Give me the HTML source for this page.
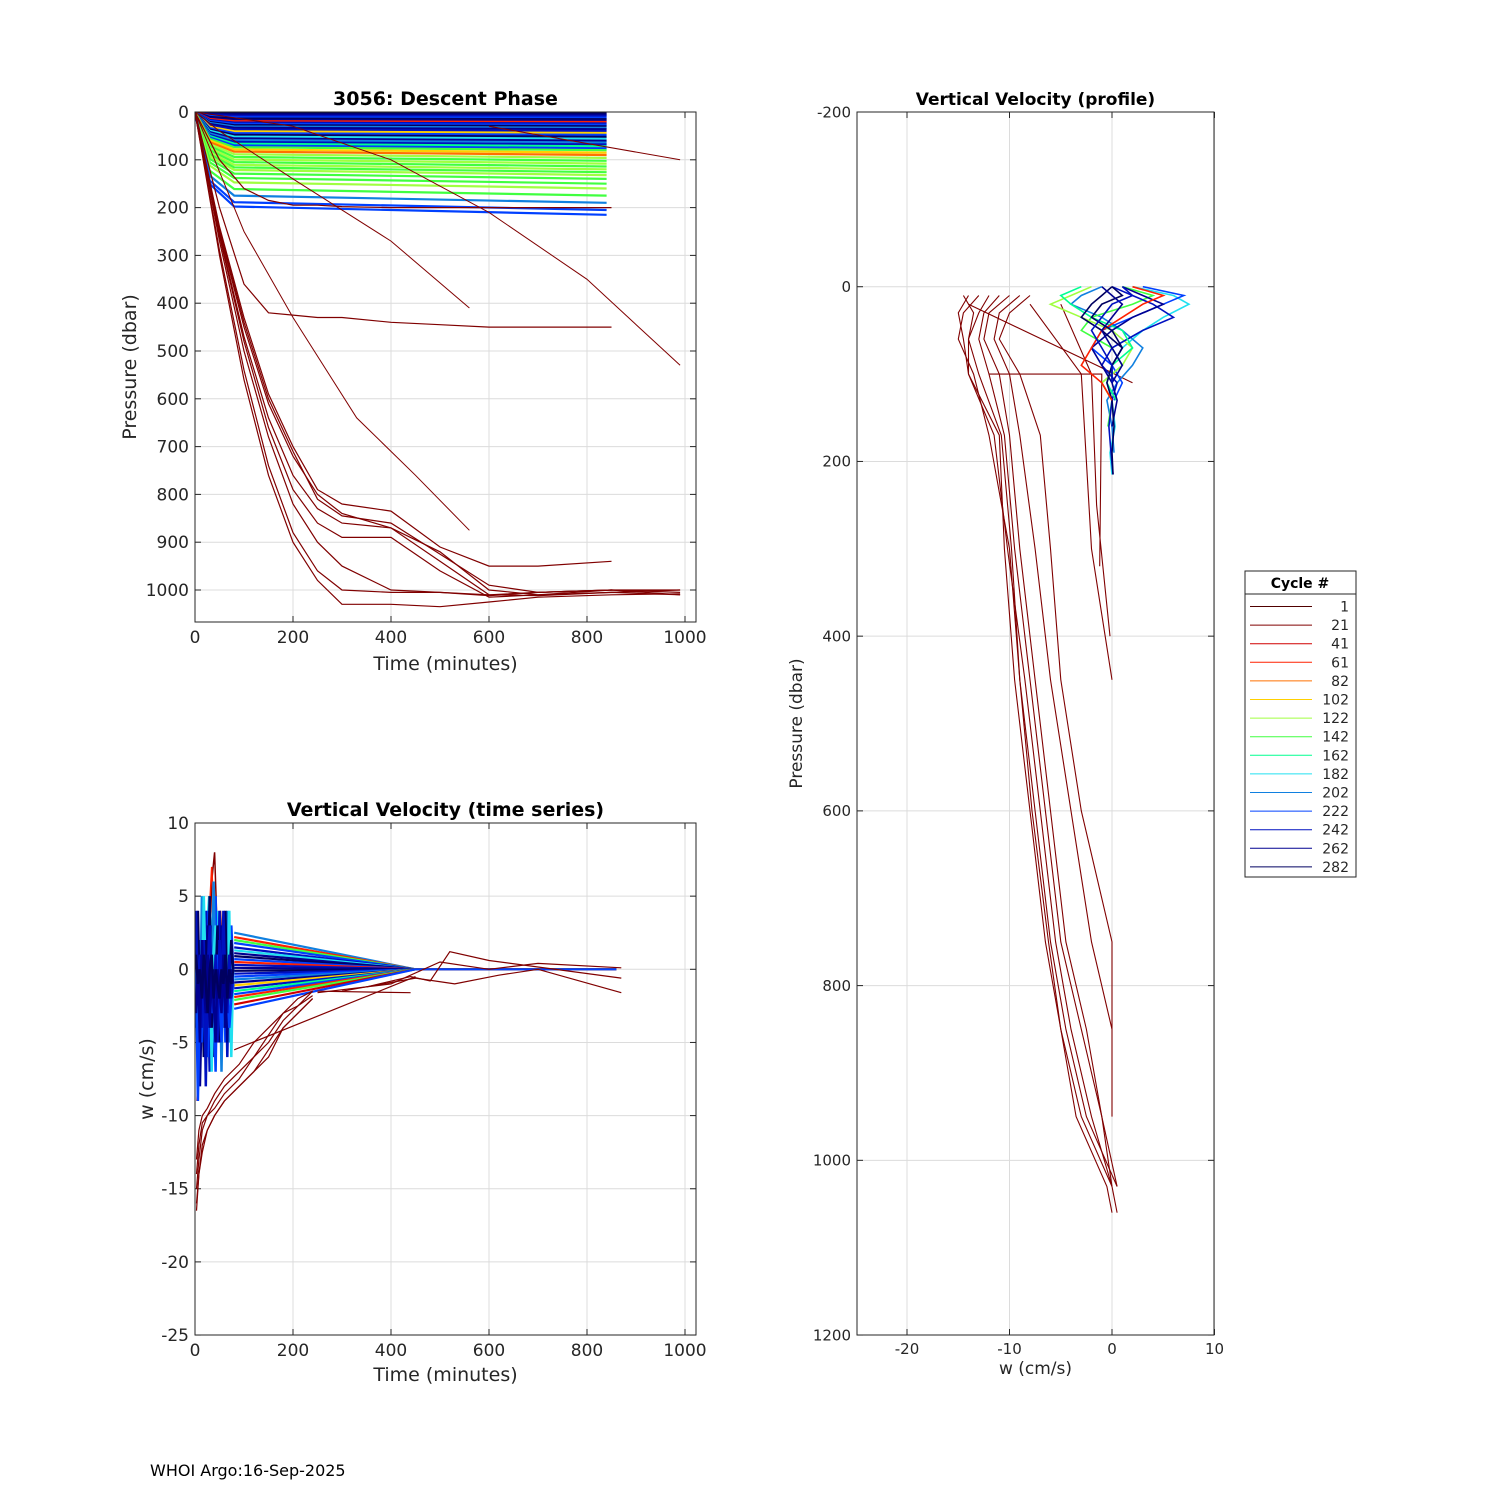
<!DOCTYPE html>
<html><head><meta charset="utf-8">
<style>
body{margin:0;background:#fff;}
svg{display:block;font-family:"DejaVu Sans","Liberation Sans",sans-serif;}
</style></head>
<body>
<svg id="fig" width="1500" height="1500" viewBox="0 0 1500 1500">
<rect width="1500" height="1500" fill="#fff"/>
<g id="p1"></g>
<g id="p2"></g>
<g id="p3"></g>
<g id="leg"></g>
<text x="150" y="1476" font-size="16" fill="#000">WHOI Argo:16-Sep-2025</text>
</svg>
<script>
// ---------- data ----------
const cycleColors = ["#500000","#800000","#d00000","#ff2000","#ff7000","#ffd000","#a0ff40","#40ff40","#00ff90","#20e0f0","#1080e0","#0040ff","#0010c0","#000090","#000060"];
const legendCycles = [1,21,41,61,82,102,122,142,162,182,202,222,242,262,282];

// Panel 1 ticks
const p1XTicks = [0,200,400,600,800,1000];
const p1YTicks = [0,100,200,300,400,500,600,700,800,900,1000];
const shallowLevels = [3,6,9,12,15,18,21,24,27,30,33,36,40,44,48,52,56,60,64,68,72,76,80,85,90,96,102,108,114,120,126,132,140,150,160,175,190,205,215];
const shallowColorIdx = [14,13,12,11,14,13,3,12,11,14,10,13,12,5,11,14,9,13,10,12,8,11,7,5,4,6,7,6,7,6,7,6,7,7,6,7,10,11,11];
const shallowTimes = [0,30,80,840];
const deepT = [0,50,100,150,200,250,300,400,500,600,700,850,990];
const deepP = [
 [0,300,560,760,900,980,1030,1030,1035,1025,1015,1010,1008],
 [0,290,540,740,880,960,1000,1005,1005,1010,1005,1000,1000],
 [0,270,500,680,820,900,950,1000,1005,1012,1005,1000,1010],
 [0,255,470,640,760,830,860,870,940,1010,1012,1005,1010],
 [0,250,450,610,720,800,840,870,920,1000,1010,1005,1000],
 [0,240,430,590,700,790,820,835,910,950,950,940,null],
 [0,260,480,660,790,860,890,890,960,1015,1010,1000,1005],
 [0,245,440,600,710,810,845,860,925,990,1005,1000,null],
 [0,200,360,420,425,430,430,440,445,450,450,450,null],
 [0,100,160,185,195,195,198,200,200,200,200,200,null]
];
const diagLines = [
 {t:[0,100,200,330,450,560],p:[0,250,430,640,760,875]},
 {t:[0,50,200,400,560],p:[0,40,140,270,410]},
 {t:[0,200,400,600,800,990],p:[0,30,100,210,350,530]},
 {t:[600,990],p:[30,100]}
];

// Panel 2
const p2XTicks = [0,200,400,600,800,1000];
const p2YTicks = [10,5,0,-5,-10,-15,-20,-25];
const spikeT = [2,6,10,14,18,22,26,30,34,38,42,46,50,54,58,62,66,70,74,78];
const spikeW = [
 [1,-3,2,-5,3,-2,4,-6,2,-1,5,-4,1,-3,3,-5,2,-2,3,0],
 [-2,2,-6,1,-3,4,-1,-7,3,-2,1,-5,4,-1,-4,2,-6,1,-2,-1],
 [3,-1,-4,5,-2,1,-6,3,-3,6,-1,-2,2,-7,1,-3,4,-5,1,0],
 [-4,1,-8,-2,2,-5,3,-3,0,-6,2,-1,-4,3,-2,0,-5,2,-3,-1],
 [2,-6,0,-3,5,-1,-4,2,-7,1,3,-2,0,-5,2,-1,-3,4,-6,0],
 [-1,4,-3,1,-6,2,-2,5,-4,0,-1,3,-5,1,-2,4,-3,-1,2,0],
 [0,-9,-2,-5,1,-4,-6,0,-3,-1,-7,1,-2,-5,0,-3,-1,-4,-2,-1],
 [4,-2,1,-4,2,-8,0,3,-1,-3,1,-5,2,-2,4,-1,-3,1,-2,0],
 [-3,0,-5,2,-1,-3,1,-4,0,-2,-5,0,-1,-3,1,-4,-1,-2,0,-1],
 [1,-1,0,-2,1,-1,-3,0,1,-2,0,-1,-2,0,-1,1,-2,0,-1,0]
];
const spikeColorIdx = [11,12,10,13,9,14,11,12,13,14];
const hotSpikeT = [4,10,16,22,28,34,40,46,52,58];
const hotSpikeW = [
 [-2,1,-4,3,-1,6,8,2,4,-1],
 [-6,-3,0,2,5,3,1,4,-2,0],
 [-9,-5,-2,1,3,7,3,-1,2,-1]
];
const hotSpikeColorIdx = [1,9,3];
const tailStartW = [2.5,2.2,2.0,1.8,1.5,1.3,1.1,0.9,0.7,0.5,0.3,0.1,-0.1,-0.3,-0.5,-0.7,-0.9,-1.1,-1.3,-1.5,-1.7,-1.9,-2.1,-2.4,-2.7];
const tailColorIdx = [10,3,7,11,12,9,13,14,11,3,12,13,14,12,11,10,13,5,12,8,11,3,7,2,11];
const redT = [3,8,15,25,40,60,90,120,150,180,210,240];
const redW = [
 [-16,-14,-12,-11,-10,-9,-8,-7,-6,-4,-3,-2],
 [-15,-13,-11,-10,-9.5,-8.5,-7.5,-6,-5,-3.5,-2.5,-1.8],
 [-16.5,-14,-12.5,-11,-10,-9,-8,-7,-5.5,-4,-3,-2],
 [-14,-12,-10.5,-10,-9,-8,-7,-6,-4.5,-3,-2.5,-1.5],
 [-13,-11,-10,-9.5,-8.5,-7.5,-6.5,-5,-4,-3,-2,-1.5]
];
const redTail = [
 {t:[250,400,500,600,700,870],w:[-1.6,-1,0.5,0,0.4,0.1]},
 {t:[300,450,530,620,700,870],w:[-1.5,-0.6,-1,-0.4,0,-1.6]},
 {t:[350,440,480,520,600,870],w:[-1.2,-0.5,-0.8,1.2,0.6,-0.6]},
 {t:[80,450],w:[-5.5,-0.5]},
 {t:[250,440],w:[-1.5,-1.6]}
];

// Panel 3
const p3XTicks = [-20,-10,0,10];
const p3YTicks = [-200,0,200,400,600,800,1000,1200];
const profP = [10,30,60,100,170,300,450,600,750,850,950,1030,1060];
const profW = [
 [-14,-15,-14.5,-14,-11,-10.5,-9.5,-8,-6.5,-5,-3,0,0.5],
 [-13,-14.5,-15,-13.5,-12,-10,-9,-7.5,-6,-4.5,-2.5,0.5,null],
 [-12,-13,-14,-14,-11.5,-10.2,-8.5,-7,-5.5,-4,-2,0,null],
 [-11,-12.5,-13,-12,-10.5,-9.5,-8,-6.5,-5,-3,-1,0,null],
 [-14.5,-13.5,-14,-13,-10.8,-9.8,-9,-7.8,-6.2,-5,-3.5,-0.5,0],
 [-10,-12,-12.5,-11,-10,-9,-7.5,-6,-4.5,-2.5,-1,0.5,null],
 [-9,-11,-11.5,-10,-9,-7.5,-6,-4,-2,0,0,null,null],
 [-8,-10,-11,-9,-7,-6,-5,-3,0,0,null,null,null]
];
const redProfLines = [
 {p:[20,100,300,450],w:[-8,-3,-2,0]},
 {p:[20,100,250,400],w:[-5,-2,-1.5,-0.2]},
 {p:[100,100,320],w:[-12,-1,-1.2]},
 {p:[20,90,110],w:[-14,-1.5,2]}
];
const blobP = [0,10,20,35,50,70,90,110,130,160,190,215];
const blobW = [
 [2,6,7.5,5,3,1,0,-0.5,0,0.3,-0.2,0],
 [-1,-3,-4,-1,1,3,2,0.5,-0.5,0,0.2,null],
 [1,4,2,-2,-3,0,1,-1,0,-0.4,null,null],
 [3,7,5,2,-1,-2,0,1,0.2,null,null,null],
 [-2,-4,-6,-3,0,2,1,-1,0,null,null,null],
 [0,2,4,6,3,0,-1,0.5,0,-0.3,-0.1,0.1],
 [-3,-5,-4,-2,1,2,0,-0.5,0.4,null,null,null],
 [1,3,5,2,0,-2,-1,0,0.5,0,null,null],
 [0,-1,-2,-3,-1,1,0,-0.5,0,0.2,0,0.1],
 [2,5,3,1,-1,-2,-3,-1,0,null,null,null],
 [0,1,-1,-2,0,1,0,0,null,null,null,null],
 [-1,0,1,0,-1,0,1,0,null,null,null,null],
 [1,2,0,-1,-2,-1,0,0,null,null,null,null]
];
const blobColorIdx = [9,10,7,11,6,12,8,13,14,3,14,13,12];

// ---------- helpers ----------
const NS="http://www.w3.org/2000/svg";
function mk(parent,tag,attrs){const e=document.createElementNS(NS,tag);for(const k in attrs)e.setAttribute(k,attrs[k]);parent.appendChild(e);return e;}
function poly(parent,xs,ys,color,w,name){
  let d="";let pen=false;
  for(let i=0;i<xs.length;i++){if(ys[i]==null||xs[i]==null){pen=false;continue;}d+=(pen?"L":"M")+xs[i].toFixed(1)+","+ys[i].toFixed(1);pen=true;}
  const e=mk(parent,"path",{d:d,fill:"none",stroke:color,"stroke-width":w||1});
  
  
  return e;
}
function axesFrame(g,L,T,R,B,xt,yt,xs,ys,fs,xlab,ylab,title,tfs,xlabY,ylabX){
  const clipId="c"+L+T;
  const cp=mk(g,"clipPath",{id:clipId});mk(cp,"rect",{x:L,y:T,width:R-L,height:B-T});
  xt.forEach(v=>{const x=xs(v);const l=mk(g,"line",{x1:x,x2:x,y1:T,y2:B,stroke:"#dcdcdc","stroke-width":1});
    
    mk(g,"line",{x1:x,x2:x,y1:B,y2:B-6,stroke:"#262626"});mk(g,"line",{x1:x,x2:x,y1:T,y2:T+6,stroke:"#262626"});
    const t=mk(g,"text",{x:x,y:B+fs+4,"font-size":fs,"text-anchor":"middle",fill:"#262626"});t.textContent=v;
    });
  yt.forEach(v=>{const y=ys(v);const l=mk(g,"line",{x1:L,x2:R,y1:y,y2:y,stroke:"#dcdcdc","stroke-width":1});
    
    mk(g,"line",{x1:L,x2:L+6,y1:y,y2:y,stroke:"#262626"});mk(g,"line",{x1:R,x2:R-6,y1:y,y2:y,stroke:"#262626"});
    const t=mk(g,"text",{x:L-6,y:y+fs*0.35,"font-size":fs,"text-anchor":"end",fill:"#262626"});t.textContent=v;
    });
  const data=mk(g,"g",{"clip-path":"url(#"+clipId+")"});
  
  const tt=mk(g,"text",{x:(L+R)/2,y:T-7,"font-size":tfs,"font-weight":"bold","text-anchor":"middle",fill:"#000"});tt.textContent=title;
  
  const xl=mk(g,"text",{x:(L+R)/2,y:xlabY,"font-size":fs+2,"text-anchor":"middle",fill:"#262626"});xl.textContent=xlab;
  
  const yl=mk(g,"text",{x:0,y:0,"font-size":fs+2,"text-anchor":"middle",fill:"#262626",transform:"translate("+ylabX+","+(T+B)/2+") rotate(-90)"});yl.textContent=ylab;
  
  return data;
}
function frame(g,L,T,R,B){const r=mk(g,"rect",{x:L,y:T,width:R-L,height:B-T,fill:"none",stroke:"#262626","stroke-width":1});
  }

// ---------- Panel 1 ----------
(function(){
  const g=document.getElementById("p1");
  const L=195,T=112,R=696,B=622;
  const xs=t=>195+t*0.49, ys=p=>112+p*0.478;
  const d=axesFrame(g,L,T,R,B,p1XTicks,p1YTicks,xs,ys,17,"Time (minutes)","Pressure (dbar)","3056: Descent Phase",19,670,136);
  shallowLevels.forEach((lv,i)=>{
    const ps=[0,lv*0.7,lv*0.92,lv];
    poly(d,shallowTimes.map(xs),ps.map(ys),cycleColors[shallowColorIdx[i]],2.2,"shallow-descent-line");
  });
  diagLines.forEach(s=>poly(d,s.t.map(xs),s.p.map(ys),cycleColors[1],1,"diagonal-descent-line"));
  deepP.forEach(ps=>poly(d,deepT.map(xs),ps.map(v=>v==null?null:ys(v)),cycleColors[1],1.2,"deep-descent-line"));
  frame(g,L,T,R,B);
})();

// ---------- Panel 2 ----------
(function(){
  const g=document.getElementById("p2");
  const L=195,T=823,R=696,B=1335;
  const xs=t=>195+t*0.49, ys=w=>823+(10-w)*14.63;
  const d=axesFrame(g,L,T,R,B,p2XTicks,p2YTicks,xs,ys,17,"Time (minutes)","w (cm/s)","Vertical Velocity (time series)",19,1381,153);
  tailStartW.forEach((w,i)=>poly(d,[xs(80),xs(450),xs(860)],[ys(w),ys(0),ys(0)],cycleColors[tailColorIdx[i]],2.2,"velocity-tail-line"));
  hotSpikeW.forEach((ws,i)=>poly(d,hotSpikeT.map(xs),ws.map(ys),cycleColors[hotSpikeColorIdx[i]],1.5,"velocity-spike-line"));
  spikeW.forEach((ws,i)=>poly(d,spikeT.map(xs),ws.map(ys),cycleColors[spikeColorIdx[i]],2.5,"velocity-spike-line"));
  redW.forEach(ws=>poly(d,redT.map(xs),ws.map(ys),cycleColors[1],1.2,"early-cycle-velocity-line"));
  redTail.forEach(s=>poly(d,s.t.map(xs),s.w.map(ys),cycleColors[1],1.2,"early-cycle-velocity-tail"));
  frame(g,L,T,R,B);
})();

// ---------- Panel 3 ----------
(function(){
  const g=document.getElementById("p3");
  const L=857,T=112,R=1214,B=1335;
  const xs=w=>1112+w*10.25, ys=p=>112+(p+200)*0.8736;
  const d=axesFrame(g,L,T,R,B,p3XTicks,p3YTicks,xs,ys,15,"w (cm/s)","Pressure (dbar)","Vertical Velocity (profile)",17,1374,802);
  profW.forEach(ws=>poly(d,ws.map(v=>v==null?null:xs(v)),profP.map(ys),cycleColors[1],1.1,"early-cycle-profile-line"));
  redProfLines.forEach(s=>poly(d,s.w.map(xs),s.p.map(ys),cycleColors[1],1.1,"early-cycle-profile-line"));
  blobW.forEach((ws,i)=>poly(d,ws.map(v=>v==null?null:xs(v)),blobP.map(ys),cycleColors[blobColorIdx[i]],1.6,"profile-velocity-line"));
  frame(g,L,T,R,B);
})();

// ---------- Legend ----------
(function(){
  const g=document.getElementById("leg");
  mk(g,"rect",{x:1245,y:571,width:111,height:306,fill:"#fff",stroke:"#262626"});
  mk(g,"line",{x1:1245,x2:1356,y1:594,y2:594,stroke:"#262626"});
  const t=mk(g,"text",{x:1300,y:588,"font-size":14,"font-weight":"bold","text-anchor":"middle",fill:"#000"});t.textContent="Cycle #";
  
  legendCycles.forEach((c,i)=>{
    const y=606.5+i*18.6;
    const e=mk(g,"g",{});
    
    
    mk(e,"line",{x1:1250,x2:1312,y1:y,y2:y,stroke:cycleColors[i],"stroke-width":1});
    const tx=mk(e,"text",{x:1349,y:y+5,"font-size":14,"text-anchor":"end",fill:"#262626"});tx.textContent=c;
  });
})();
</script>
</body></html>
